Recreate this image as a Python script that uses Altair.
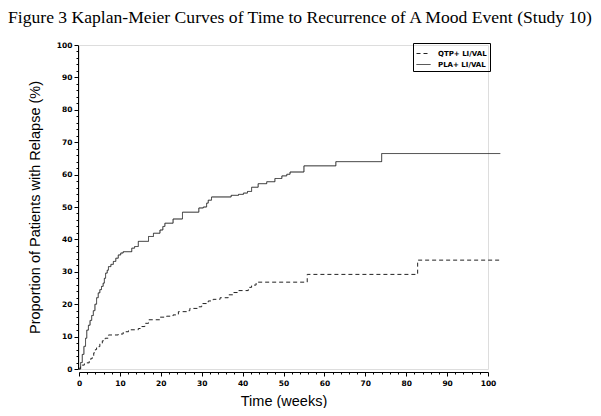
import altair as alt
import pandas as pd

# ---- data (weeks, % with relapse) ----
groups = ["QTP+ LI/VAL", "PLA+ LI/VAL"]

qtp_t = [0, 0.3, 0.65, 1.3, 1.9, 2.5, 2.9, 3.3, 3.6, 4.0, 4.3, 5.1, 5.7, 6.4, 7.2,
         9.6, 10.8, 12.1, 14.5, 15.3, 16.1, 17.0, 19.8, 21.4, 23.0, 24.3, 26.7,
         27.1, 29.2, 30.0, 31.6, 32.8, 34.5, 36.5, 37.7, 38.9, 41.4, 42.2, 43.3,
         55.8, 82.8, 103]
qtp_v = [0, 0.6, 1.2, 1.6, 1.9, 2.6, 3.3, 4.0, 5.0, 6.0, 6.9, 7.9, 8.7, 9.5, 10.5,
         10.8, 11.5, 12.1, 12.5, 13.1, 14.1, 15.2, 16.0, 16.3, 16.7, 17.7, 18.0,
         18.7, 19.2, 20.2, 21.0, 21.5, 22.0, 22.9, 23.6, 24.2, 25.2, 25.9, 26.8,
         29.2, 33.6, 33.6]

pla_t = [0, 0.4, 0.8, 1.2, 1.6, 1.9, 2.3, 2.7, 3.1, 3.5, 3.9, 4.3, 4.7, 5.1, 5.5,
         5.9, 6.2, 6.5, 6.9, 7.2, 7.8, 8.4, 9.0, 9.6, 10.2, 10.8, 12.9, 13.6, 14.5,
         17.0, 18.2, 19.8, 20.5, 21.0, 23.0, 25.3, 29.3, 30.4, 31.2, 31.6, 32.4,
         37.2, 39.0, 40.2, 41.2, 42.2, 43.8, 45.9, 47.9, 49.6, 50.8, 51.6, 55.0,
         62.8, 74.0, 103]
pla_v = [0, 2, 4.5, 7, 9.5, 12, 13.5, 15, 16.5, 18, 20, 22, 23.5, 24.5, 25.5,
         26.5, 28, 29.6, 30.5, 31.6, 32.3, 33.2, 34.2, 35.2, 35.8, 36.2, 37.3, 37.8, 39.4,
         40.9, 41.9, 42.9, 44.0, 45.0, 46.3, 48.4, 49.7, 50.0, 51.2, 52.1, 53.1,
         53.6, 53.9, 54.3, 54.8, 56.1, 57.2, 57.8, 58.8, 59.6, 60.1, 60.8, 62.7,
         64.0, 66.5, 66.5]

tick_values = list(range(0, 101, 2))

df = pd.concat([
    pd.DataFrame({"time": qtp_t, "pct": qtp_v, "group": groups[0]}),
    pd.DataFrame({"time": pla_t, "pct": pla_v, "group": groups[1]}),
], ignore_index=True)

major = "datum.value % 10 === 0"
tick_font = "DejaVu Sans"

common_axis = dict(
    values=tick_values,
    labelExpr=f"{major} ? datum.label : ''",
    tickSize={"condition": {"test": major, "value": 4}, "value": 2},
    labelOverlap=False,
    labelFlush=False,
    grid=False,
    domainColor="black",
    tickColor="black",
    labelColor="black",
    labelFont=tick_font,
    labelFontSize=7.5,
    labelFontWeight="bold",
    titleFont="Liberation Sans",
    titleFontSize=14.5,
    titleFontWeight="normal",
    titleColor="black",
)

x_axis = alt.Axis(title="Time (weeks)", offset=3, labelPadding=3, titlePadding=8,
                  labelAngle=0, **common_axis)
y_axis = alt.Axis(title="Proportion of Patients with Relapse (%)", offset=1,
                  labelPadding=2, titlePadding=14, **common_axis)

chart = alt.Chart(df).mark_line(
    interpolate="step-after", strokeWidth=1, color="#222222"
).encode(
    x=alt.X("time:Q", scale=alt.Scale(domain=[0, 100], nice=False), axis=x_axis),
    y=alt.Y("pct:Q", scale=alt.Scale(domain=[0, 100], nice=False), axis=y_axis),
    strokeDash=alt.StrokeDash(
        "group:N",
        scale=alt.Scale(domain=groups, range=[[4, 3], [1, 0]]),
        legend=alt.Legend(
            title=None, orient="none", legendX=334, legendY=-2,
            strokeColor="black", padding=3, symbolType="stroke",
            symbolSize=196, symbolStrokeWidth=1, symbolStrokeColor="#222222",
            labelFont=tick_font, labelFontSize=7, labelFontWeight="bold",
            labelColor="black", rowPadding=-3, labelOffset=7,
        ),
    ),
    detail="group:N",
).properties(
    width=409,
    height=324,
    title=alt.TitleParams(
        "Figure 3 Kaplan-Meier Curves of Time to Recurrence of A Mood Event (Study 10)",
        anchor="start", frame="group", dx=-71, offset=14,
        font="Liberation Serif", fontSize=17.6, fontWeight="normal", color="black",
    ),
    autosize=alt.AutoSizeParams(type="none"),
    padding={"left": 71, "top": 37, "right": 105, "bottom": 39},
).configure_view(stroke=None).configure(background="white")

chart.save("out.html", embed_options={"renderer": "svg", "actions": False})
